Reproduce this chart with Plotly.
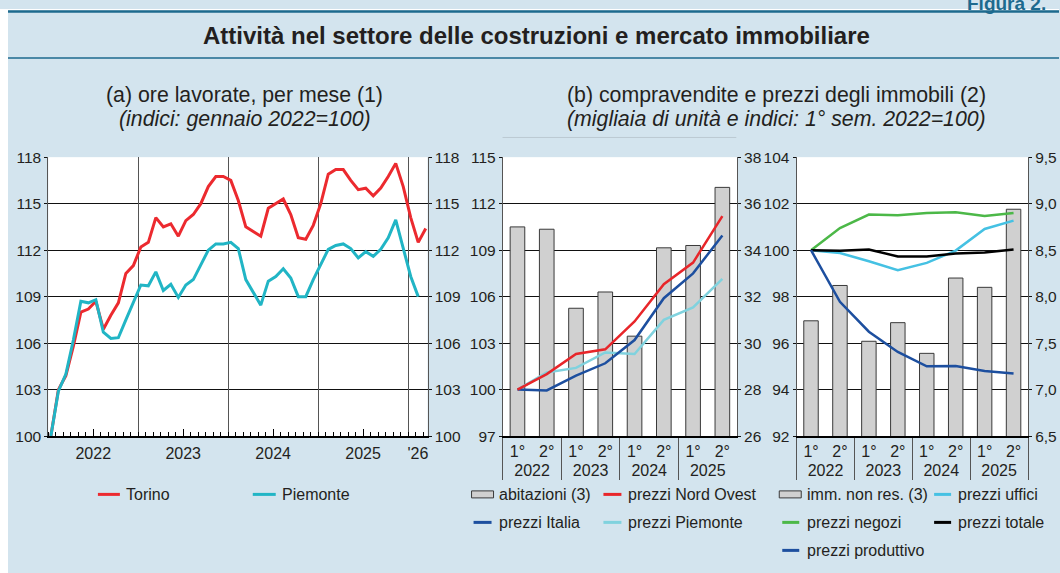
import plotly.graph_objects as go

# ---------------- DATA ----------------
torino = [100, 103.0, 103.9, 105.8, 108.0, 108.2, 108.7, 106.9, 107.8, 108.6, 110.5, 111.0,
          112.2, 112.5, 114.1, 113.5, 113.7, 112.9, 113.9, 114.3, 115.0, 116.1, 116.75, 116.75,
          116.5, 115.2, 113.5, 113.2, 112.9, 114.7, 115.0, 115.3, 114.3, 112.8, 112.7, 113.6,
          115.0, 116.9, 117.2, 117.2, 116.5, 115.9, 116.0, 115.5, 116.0, 116.75, 117.6, 116.1,
          114.1, 112.5, 113.4]
piemonte = [100, 102.9, 104.0, 106.2, 108.7, 108.6, 108.8, 106.7, 106.3, 106.35, 107.5, 108.6,
            109.75, 109.7, 110.6, 109.4, 109.8, 108.95, 109.75, 110.1, 111.0, 112.0, 112.4, 112.4,
            112.5, 112.1, 110.1, 109.3, 108.45, 110.0, 110.3, 110.8, 110.2, 109.0, 109.0, 110.1,
            111.1, 112.05, 112.3, 112.4, 112.1, 111.5, 111.9, 111.6, 112.05, 112.8, 113.95, 112.2,
            110.3, 109.0]
year_labels_a = ["2022", "2023", "2024", "2025", "'26"]
year_label_pos_a = [6, 18, 30, 42, 49.3]
year_bounds_a = [12, 24, 36, 48]
mid_year_a = [6, 18, 30, 42]

years_b = ["2022", "2022", "2023", "2023", "2024", "2024", "2025", "2025"]
sem_b = ["1°", "2°", "1°", "2°", "1°", "2°", "1°", "2°"]
abitazioni = [35.0, 34.9, 31.5, 32.2, 30.3, 34.1, 34.2, 36.7]
prezzi_nord_ovest = [100, 101.0, 102.3, 102.6, 104.4, 106.8, 108.2, 111.2]
prezzi_italia = [100, 99.95, 100.9, 101.7, 103.2, 105.9, 107.5, 109.95]
prezzi_piemonte = [100, 101.1, 101.4, 102.4, 102.3, 104.5, 105.3, 107.15]
imm_non_res = [7.74, 8.12, 7.52, 7.72, 7.39, 8.20, 8.10, 8.94]
prezzi_negozi = [100, 100.95, 101.53, 101.5, 101.6, 101.63, 101.47, 101.6]
prezzi_uffici = [100, 99.88, 99.52, 99.14, 99.45, 99.98, 100.91, 101.27]
prezzi_totale = [100, 99.97, 100.03, 99.73, 99.73, 99.86, 99.9, 100.03]
prezzi_produttivo = [100, 97.78, 96.49, 95.62, 95.0, 95.02, 94.8, 94.69]

# ---------------- STYLE ----------------
W, H = 1060, 582
FONT = "Liberation Sans, Arial, sans-serif"
TXT = "#231f20"
BG = "#d3e4ee"
TEAL = "#1d6a8e"
RED = "#ec2a2f"
CYAN = "#21b5c5"
RED_B = "#e8262a"
BLUE_B = "#1d4f9f"
LCYAN_B = "#80d2de"
GREEN = "#4cb848"
LBLUE = "#45c1e3"
BAR_FILL = "#d0d0d0"
BAR_LINE = "#3a3a3a"

# vertical placement: target picture row -> figure row
Y_OFF, Y_SCALE = 8.5, 0.971


def px(x):
    return x / W


def py(y):
    return 1 - ((y - Y_OFF) / Y_SCALE) / H


month_x_t = [i + 0.35 for i in range(len(torino))]
month_x_p = [i + 0.35 for i in range(len(piemonte))]
multi_x = [years_b, sem_b]

fig = go.Figure()
fig.add_trace(go.Scatter(x=month_x_t, y=torino, mode="lines", line=dict(color=RED, width=3),
                         xaxis="x", yaxis="y", showlegend=False))
fig.add_trace(go.Scatter(x=month_x_p, y=piemonte, mode="lines", line=dict(color=CYAN, width=3),
                         xaxis="x2", yaxis="y2", showlegend=False))
fig.add_trace(go.Bar(x=multi_x, y=abitazioni, width=0.5, marker=dict(color=BAR_FILL, line=dict(color=BAR_LINE, width=1)),
                     xaxis="x3", yaxis="y3", showlegend=False))
fig.add_trace(go.Scatter(x=multi_x, y=prezzi_piemonte, mode="lines", line=dict(color=LCYAN_B, width=2.5),
                         xaxis="x3", yaxis="y4", showlegend=False))
fig.add_trace(go.Scatter(x=multi_x, y=prezzi_italia, mode="lines", line=dict(color=BLUE_B, width=2.5),
                         xaxis="x3", yaxis="y4", showlegend=False))
fig.add_trace(go.Scatter(x=multi_x, y=prezzi_nord_ovest, mode="lines", line=dict(color=RED_B, width=2.5),
                         xaxis="x3", yaxis="y4", showlegend=False))
fig.add_trace(go.Bar(x=multi_x, y=imm_non_res, width=0.5, marker=dict(color=BAR_FILL, line=dict(color=BAR_LINE, width=1)),
                     xaxis="x4", yaxis="y5", showlegend=False))
fig.add_trace(go.Scatter(x=multi_x, y=prezzi_negozi, mode="lines", line=dict(color=GREEN, width=2.5),
                         xaxis="x4", yaxis="y6", showlegend=False))
fig.add_trace(go.Scatter(x=multi_x, y=prezzi_uffici, mode="lines", line=dict(color=LBLUE, width=2.5),
                         xaxis="x4", yaxis="y6", showlegend=False))
fig.add_trace(go.Scatter(x=multi_x, y=prezzi_totale, mode="lines", line=dict(color="#000000", width=2.5),
                         xaxis="x4", yaxis="y6", showlegend=False))
fig.add_trace(go.Scatter(x=multi_x, y=prezzi_produttivo, mode="lines", line=dict(color=BLUE_B, width=2.5),
                         xaxis="x4", yaxis="y6", showlegend=False))

ytickfont = dict(family=FONT, size=15.5, color=TXT)
xtickfont = dict(family=FONT, size=16, color=TXT)
ydom = [py(435.7), py(156.7)]
dom_a = [px(48.3), px(428)]
dom_bl = [px(503.3), px(737.7)]
dom_br = [px(797.3), px(1029)]

yaxis_common = dict(domain=ydom, tickfont=ytickfont, showgrid=True, gridcolor="#111111", gridwidth=1,
                    zeroline=False, showline=True, linecolor="#555555", linewidth=1,
                    ticks="outside", ticklen=3, tickcolor="#111111", fixedrange=True)

fig.update_layout(
    width=W, height=H, autosize=False,
    margin=dict(l=0, r=0, t=0, b=0),
    paper_bgcolor=BG, plot_bgcolor="white",
    separators=",.",
    font=dict(family=FONT, color=TXT),
    showlegend=False,
    xaxis=dict(domain=dom_a, anchor="y", range=[0, 50.6], tickmode="array",
               tickvals=year_label_pos_a, ticktext=year_labels_a, ticks="", showgrid=False,
               zeroline=False, showline=True, linecolor="#000000", linewidth=1.5,
               tickfont=xtickfont, ticklabelstandoff=2,
               minor=dict(tickmode="linear", tick0=0, dtick=1, ticks="inside", ticklen=4,
                          tickcolor="#000000", tickwidth=1, showgrid=False)),
    xaxis2=dict(overlaying="x", anchor="y", range=[0, 50.6], tickmode="array",
                tickvals=year_bounds_a, showticklabels=False, ticks="", showgrid=True,
                gridcolor="#555555", gridwidth=1, zeroline=False, showline=False,
                minor=dict(tickmode="array", tickvals=mid_year_a, ticks="inside", ticklen=7,
                           tickcolor="#000000", tickwidth=1, showgrid=False)),
    yaxis=dict(anchor="x", range=[100, 118], tick0=100, dtick=3, side="left", **yaxis_common),
    yaxis2=dict(anchor="x", overlaying="y", range=[100, 118], tick0=100, dtick=3, side="right",
                **{**yaxis_common, "showgrid": False}),
    xaxis3=dict(domain=dom_bl, anchor="y3", type="multicategory", range=[-0.5, 7.5],
                tickfont=xtickfont, showgrid=False, zeroline=False, showline=True,
                linecolor="#000000", linewidth=2, ticks="", showdividers=True,
                dividercolor="#555555", dividerwidth=1),
    yaxis3=dict(anchor="x3", range=[26, 38], tick0=26, dtick=2, side="right", **yaxis_common),
    yaxis4=dict(anchor="x3", overlaying="y3", range=[97, 115], tick0=97, dtick=3, side="left",
                **{**yaxis_common, "showgrid": False}),
    xaxis4=dict(domain=dom_br, anchor="y5", type="multicategory", range=[-0.5, 7.5],
                tickfont=xtickfont, showgrid=False, zeroline=False, showline=True,
                linecolor="#000000", linewidth=2, ticks="", showdividers=True,
                dividercolor="#555555", dividerwidth=1),
    yaxis5=dict(anchor="x4", range=[6.5, 9.5], tick0=6.5, dtick=0.5, tickformat=".1f", side="right",
                **yaxis_common),
    yaxis6=dict(anchor="x4", overlaying="y5", range=[92, 104], tick0=92, dtick=2, side="left",
                **{**yaxis_common, "showgrid": False}),
)

shapes = []
annotations = []
shapes.append(dict(type="rect", xref="paper", yref="paper", x0=0, x1=1, y0=py(10), y1=1,
                   fillcolor="white", line=dict(width=0), layer="below"))
shapes.append(dict(type="rect", xref="paper", yref="paper", x0=0, x1=px(8), y0=0, y1=1,
                   fillcolor="white", line=dict(width=0), layer="below"))
shapes.append(dict(type="line", xref="paper", yref="paper", x0=px(8), x1=1, y0=py(11), y1=py(11),
                   line=dict(color=TEAL, width=2.5)))
shapes.append(dict(type="line", xref="paper", yref="paper", x0=px(8), x1=1, y0=py(57.5), y1=py(57.5),
                   line=dict(color=TEAL, width=1.5)))
shapes.append(dict(type="line", xref="paper", yref="paper", x0=px(503), x1=px(737), y0=py(137), y1=py(137),
                   line=dict(color="#bcc9d2", width=1)))

annotations.append(dict(text="<b>Figura 2.</b>", xref="paper", yref="paper", x=px(966), y=1 - 7 / H,
                        xanchor="left", yanchor="bottom", showarrow=False,
                        font=dict(family=FONT, size=19, color=TEAL)))
annotations.append(dict(text="<b>Attività nel settore delle costruzioni e mercato immobiliare</b>",
                        xref="paper", yref="paper", x=px(537), y=py(35), xanchor="center", yanchor="middle",
                        showarrow=False, font=dict(family=FONT, size=24, color=TXT)))
annotations.append(dict(text="(a) ore lavorate, per mese (1)", xref="paper", yref="paper", x=px(245), y=py(95),
                        xanchor="center", yanchor="middle", showarrow=False,
                        font=dict(family=FONT, size=21.3, color=TXT)))
annotations.append(dict(text="<i>(indici: gennaio 2022=100)</i>", xref="paper", yref="paper", x=px(245), y=py(119),
                        xanchor="center", yanchor="middle", showarrow=False,
                        font=dict(family=FONT, size=21.3, color=TXT)))
annotations.append(dict(text="(b) compravendite e prezzi degli immobili (2)", xref="paper", yref="paper",
                        x=px(777), y=py(95), xanchor="center", yanchor="middle", showarrow=False,
                        font=dict(family=FONT, size=21.3, color=TXT)))
annotations.append(dict(text="<i>(migliaia di unità e indici: 1° sem. 2022=100)</i>", xref="paper", yref="paper",
                        x=px(777), y=py(119), xanchor="center", yanchor="middle", showarrow=False,
                        font=dict(family=FONT, size=21.3, color=TXT)))

legend_lines = [
    (98, 120, 494, RED, "Torino", 124),
    (253, 276, 494, CYAN, "Piemonte", 280),
    (604, 622, 494, RED_B, "prezzi Nord Ovest", 627),
    (474, 492, 522, BLUE_B, "prezzi Italia", 497),
    (604, 622, 522, LCYAN_B, "prezzi Piemonte", 627),
    (935, 952, 494, LBLUE, "prezzi uffici", 957),
    (783, 800, 522, GREEN, "prezzi negozi", 806),
    (935, 952, 522, "#000000", "prezzi totale", 957),
    (783, 800, 550, BLUE_B, "prezzi produttivo", 806),
]
for x0, x1, y, col, label, tx in legend_lines:
    shapes.append(dict(type="line", xref="paper", yref="paper", x0=px(x0), x1=px(x1), y0=py(y), y1=py(y),
                       line=dict(color=col, width=3)))
    annotations.append(dict(text=label, xref="paper", yref="paper", x=px(tx), y=py(y), xanchor="left",
                            yanchor="middle", showarrow=False, font=dict(family=FONT, size=16, color=TXT)))

legend_bars = [(472, 494, 494, "abitazioni (3)", 497), (780, 802, 494, "imm. non res. (3)", 806)]
for x0, x1, y, label, tx in legend_bars:
    shapes.append(dict(type="rect", xref="paper", yref="paper", x0=px(x0), x1=px(x1), y0=py(y + 3.5),
                       y1=py(y - 3.5), fillcolor=BAR_FILL, line=dict(color=BAR_LINE, width=1)))
    annotations.append(dict(text=label, xref="paper", yref="paper", x=px(tx), y=py(y), xanchor="left",
                            yanchor="middle", showarrow=False, font=dict(family=FONT, size=16, color=TXT)))

fig.update_layout(shapes=shapes, annotations=annotations)

fig.write_html(
    "out.html",
    config={"displayModeBar": False},
    post_script=(
        "var gd=document.getElementById('{plot_id}');"
        "gd.style.position='fixed';gd.style.left='0px';gd.style.top='0px';"
        "document.body.style.margin='0';document.body.style.padding='0';"
        "document.documentElement.style.overflow='hidden';document.body.style.overflow='hidden';"
    ),
)
